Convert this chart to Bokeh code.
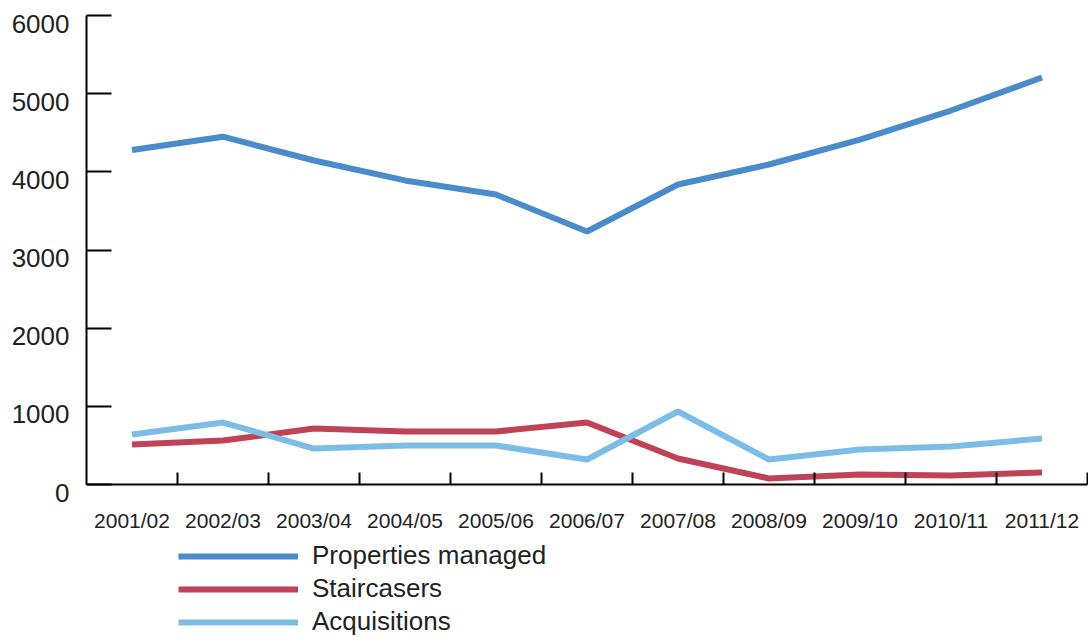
from bokeh.plotting import figure
from bokeh.models import FixedTicker, Legend, LegendItem, Range1d, ColumnDataSource
from bokeh.core.properties import value
from bokeh.embed import file_html
from bokeh.resources import INLINE

categories = ["2001/02", "2002/03", "2003/04", "2004/05", "2005/06", "2006/07",
              "2007/08", "2008/09", "2009/10", "2010/11", "2011/12"]
properties_managed = [4280, 4450, 4145, 3890, 3710, 3237, 3838, 4094, 4413, 4784, 5207]
staircasers = [512, 563, 716, 678, 678, 793, 333, 77, 128, 115, 154]
acquisitions = [640, 793, 460, 499, 499, 320, 934, 320, 448, 486, 588]
y_ticks = [0, 1000, 2000, 3000, 4000, 5000, 6000]

series = [
    ("Properties managed", properties_managed, "#4A8BCB"),
    ("Staircasers", staircasers, "#BF4257"),
    ("Acquisitions", acquisitions, "#7CBDE8"),
]

FONT = "Liberation Sans"
TEXT = "#222222"
W, H = 1088, 637
n = len(categories)
xs = [i + 0.5 for i in range(n)]

# pixel layout of the data area inside the canvas
left_px, right_px, top_px, bottom_px = 86, 1087, 15, 484
ymax = y_ticks[-1]
xpx = (right_px - left_px) / n
ypx = (bottom_px - top_px) / ymax
x_range = Range1d(-left_px / xpx, n + (W - right_px) / xpx)
y_range = Range1d(-(H - bottom_px) / ypx, ymax + top_px / ypx)

p = figure(width=W, height=H, output_backend="svg", toolbar_location=None,
           x_range=x_range, y_range=y_range,
           min_border=0, min_border_left=0, min_border_right=0,
           min_border_top=0, min_border_bottom=0)
p.outline_line_color = None
p.xgrid.visible = False
p.ygrid.visible = False
p.background_fill_color = "white"
p.border_fill_color = "white"

# x axis: labels at category centres, tick marks at category boundaries
xaxis = p.xaxis[0]
xaxis.fixed_location = 0
xaxis.bounds = (0, n)
xaxis.ticker = FixedTicker(ticks=xs, minor_ticks=list(range(1, n + 1)))
xaxis.major_label_overrides = {x: c for x, c in zip(xs, categories)}
xaxis.major_tick_in = 0
xaxis.major_tick_out = 0
xaxis.minor_tick_in = 12
xaxis.minor_tick_out = 0
xaxis.minor_tick_line_color = "black"
xaxis.minor_tick_line_width = 2
xaxis.axis_line_width = 2
xaxis.axis_line_color = "black"
xaxis.major_label_standoff = 24
xaxis.major_label_text_font = FONT
xaxis.major_label_text_font_size = "21px"
xaxis.major_label_text_color = TEXT

yaxis = p.yaxis[0]
yaxis.fixed_location = 0
yaxis.bounds = (0, ymax)
yaxis.ticker = FixedTicker(ticks=y_ticks)
yaxis.major_label_overrides = {t: "" for t in y_ticks}
yaxis.major_tick_in = 25
yaxis.major_tick_out = 0
yaxis.minor_tick_line_color = None
yaxis.major_tick_line_width = 2
yaxis.major_tick_line_color = "black"
yaxis.axis_line_width = 2
yaxis.axis_line_color = "black"

# y tick labels, sitting slightly below their ticks as in the reference
ysrc = ColumnDataSource(dict(x=[0] * len(y_ticks), y=y_ticks, t=[str(t) for t in y_ticks]))
p.text(x="x", y="y", text="t", source=ysrc, text_align="right", text_baseline="middle",
       x_offset=-17, y_offset=8, text_font=value(FONT), text_font_size="26px",
       text_color=TEXT)

items = []
for name, vals, color in series:
    r = p.line(xs, vals, line_color=color, line_width=6)
    items.append(LegendItem(label=name, renderers=[r]))

legend = Legend(items=items, location=(178, 0), orientation="vertical",
                glyph_width=120, glyph_height=30, label_height=30, spacing=2,
                label_standoff=14, padding=0, margin=0,
                border_line_color=None, background_fill_alpha=0,
                label_text_font=FONT, label_text_font_size="26px",
                label_text_color=TEXT)
p.add_layout(legend)

open("out.html", "w").write(file_html(p, INLINE))
